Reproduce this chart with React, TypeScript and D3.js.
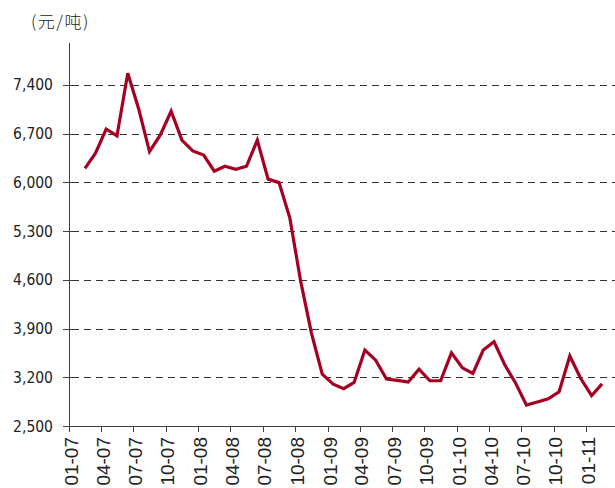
import React, { useEffect, useRef } from 'react';
import * as d3 from 'd3';

// monthly price, 2007-02 .. 2011-02
const months = [
  '2007-02', '2007-03', '2007-04', '2007-05', '2007-06', '2007-07', '2007-08', '2007-09', '2007-10', '2007-11', '2007-12',
  '2008-01', '2008-02', '2008-03', '2008-04', '2008-05', '2008-06', '2008-07', '2008-08', '2008-09', '2008-10', '2008-11', '2008-12',
  '2009-01', '2009-02', '2009-03', '2009-04', '2009-05', '2009-06', '2009-07', '2009-08', '2009-09', '2009-10', '2009-11', '2009-12',
  '2010-01', '2010-02', '2010-03', '2010-04', '2010-05', '2010-06', '2010-07', '2010-08', '2010-09', '2010-10', '2010-11', '2010-12',
  '2011-01', '2011-02',
];

const prices = [
  6200, 6415, 6765, 6665, 7565, 7060, 6440, 6680, 7020, 6605, 6450,
  6390, 6160, 6230, 6185, 6230, 6605, 6045, 5995, 5485, 4580, 3835, 3245,
  3100, 3035, 3125, 3590, 3445, 3175, 3155, 3130, 3315, 3150, 3150, 3550,
  3335, 3255, 3590, 3710, 3375, 3115, 2800, 2845, 2890, 2990, 3505, 3185,
  2935, 3105,
];

const xTickLabels = [
  '01-07', '04-07', '07-07', '10-07', '01-08', '04-08', '07-08', '10-08',
  '01-09', '04-09', '07-09', '10-09', '01-10', '04-10', '07-10', '10-10', '01-11',
];

const yTicks = [2500, 3200, 3900, 4600, 5300, 6000, 6700, 7400];

const unitLabel = '(元/吨)';

const App = () => {
  const svgRef = useRef(null);

  useEffect(() => {
    const width = 615;
    const height = 488;
    const left = 69;
    const axisY = 426;

    const svg = d3.select(svgRef.current);
    svg.selectAll('*').remove();
    svg.attr('width', width).attr('height', height);

    const parse = d3.timeParse('%Y-%m');
    const start = parse('2007-01');
    const end = parse('2011-04');
    const x = d3.scaleTime().domain([start, end]).range([left, left + 51 * 10.764]);
    const y = d3.scaleLinear().domain([2500, 8000]).range([axisY, 43]);

    // point sits in the middle of its month
    const mid = (m) => {
      const d = parse(m);
      const n = d3.timeMonth.offset(d, 1);
      return new Date((d.getTime() + n.getTime()) / 2);
    };

    // gridlines
    svg
      .append('g')
      .selectAll('line')
      .data(yTicks.filter((t) => t !== 2500))
      .enter()
      .append('line')
      .attr('x1', left + 3)
      .attr('x2', width)
      .attr('y1', (d) => Math.round(y(d)) + 0.5)
      .attr('y2', (d) => Math.round(y(d)) + 0.5)
      .attr('stroke', '#333')
      .attr('stroke-width', 1)
      .attr('stroke-dasharray', '7,5');

    // y axis
    const yAxis = svg.append('g');
    yAxis
      .append('line')
      .attr('x1', left + 0.5)
      .attr('x2', left + 0.5)
      .attr('y1', 43)
      .attr('y2', axisY)
      .attr('stroke', '#404040');
    yAxis
      .selectAll('line.tick')
      .data(yTicks)
      .enter()
      .append('line')
      .attr('class', 'tick')
      .attr('x1', left - 6)
      .attr('x2', left + 3)
      .attr('y1', (d) => Math.round(y(d)) + 0.5)
      .attr('y2', (d) => Math.round(y(d)) + 0.5)
      .attr('stroke', '#404040');
    yAxis
      .selectAll('text')
      .data(yTicks)
      .enter()
      .append('text')
      .attr('x', 53)
      .attr('y', (d) => y(d))
      .attr('dy', '0.36em')
      .attr('text-anchor', 'end')
      .style('font-family', '"DejaVu Sans Condensed", "DejaVu Sans", sans-serif')
      .style('font-size', '15.5px')
      .attr('fill', '#222')
      .text((d) => d3.format(',')(d));

    // x axis
    const tickDates = xTickLabels.map((l) => parse('20' + l.slice(3) + '-' + l.slice(0, 2)));
    const xAxis = svg.append('g');
    xAxis
      .append('line')
      .attr('x1', left)
      .attr('x2', width)
      .attr('y1', axisY + 0.5)
      .attr('y2', axisY + 0.5)
      .attr('stroke', '#404040');
    xAxis
      .selectAll('line.tick')
      .data(tickDates)
      .enter()
      .append('line')
      .attr('class', 'tick')
      .attr('x1', (d) => Math.round(x(d)) + 0.5)
      .attr('x2', (d) => Math.round(x(d)) + 0.5)
      .attr('y1', axisY)
      .attr('y2', axisY + 6)
      .attr('stroke', '#404040');
    xAxis
      .selectAll('text')
      .data(xTickLabels)
      .enter()
      .append('text')
      .attr('transform', (d, i) => `translate(${x(tickDates[i]) + 2},437) rotate(-90)`)
      .attr('dy', '0.36em')
      .attr('text-anchor', 'end')
      .style('font-family', '"Liberation Sans Narrow", "Liberation Sans", sans-serif')
      .style('font-size', '19px')
      .attr('fill', '#222')
      .text((d) => d);

    // unit
    svg
      .append('text')
      .attr('x', 31)
      .attr('y', 28)
      .style('font-family', '"Noto Sans CJK SC", sans-serif')
      .style('font-size', '17px')
      .style('font-weight', 300)
      .style('letter-spacing', '1.5px')
      .attr('fill', '#222')
      .text(unitLabel);

    // price line
    const line = d3
      .line()
      .x((d, i) => x(mid(months[i])))
      .y((d) => y(d));

    svg
      .append('path')
      .datum(prices)
      .attr('d', line)
      .attr('fill', 'none')
      .attr('stroke', '#A50021')
      .attr('stroke-width', 3.2)
      .attr('stroke-linejoin', 'miter');
  }, []);

  return (
    <svg
      ref={svgRef}
      style={{ position: 'absolute', left: 0, top: 0, background: '#fff' }}
    ></svg>
  );
};

export default App;
